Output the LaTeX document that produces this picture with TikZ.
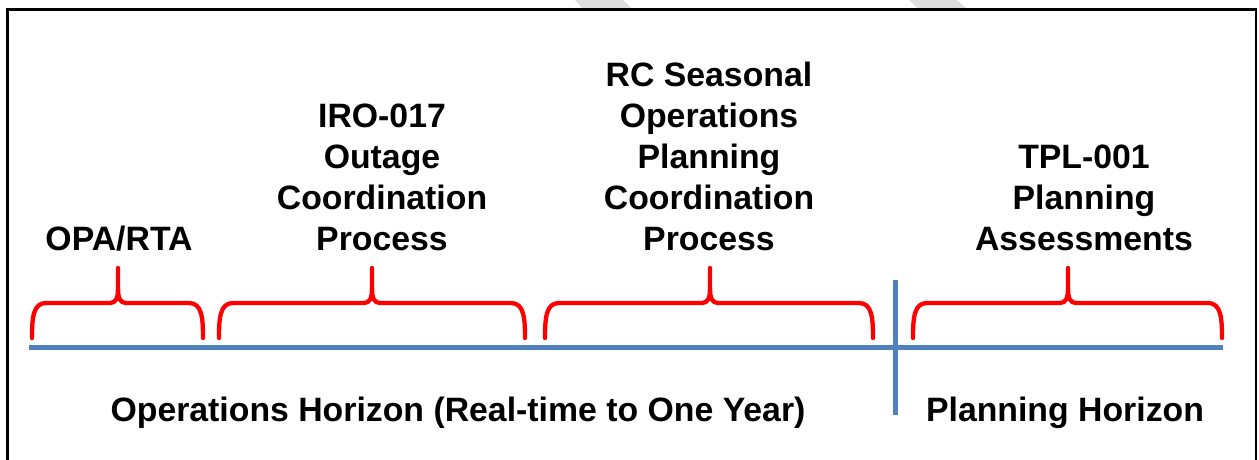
\documentclass[tikz,border=0pt]{standalone}
\usepackage{fontspec}
\setmainfont{Liberation Sans}
\definecolor{hblue}{RGB}{79,129,189}
\definecolor{wmgray}{RGB}{222,222,222}
\newcommand\redbrace[3]{%
  \draw[bracepath] (#1,338) .. controls (#1,318) and ({#1+1},303) .. ({#1+14},303)
     -- ({#2-8},303) .. controls ({#2-2},303) and (#2,298) .. (#2,288) -- (#2,268);
  \draw[bracepath] (#2,288) .. controls (#2,298) and ({#2+2},303) .. ({#2+8},303)
     -- ({#3-14},303) .. controls ({#3-1},303) and (#3,318) .. (#3,338);}
\begin{document}
\begin{tikzpicture}[x=1pt,y=-1pt,
  lbl/.style={font=\bfseries\fontsize{33.8}{41}\selectfont, align=center, inner sep=0pt},
  bracepath/.style={draw=red, line width=4.3pt, line cap=round, line join=round},
  axisline/.style={draw=hblue, line width=5pt}]
\useasboundingbox (0,0) rectangle (1259,460);
\clip (0,0) rectangle (1259,460);
% faint watermark bands
\fill[wmgray] (575,0) -- (623,0) -- (632,9) -- (583,9) -- cycle;
\fill[wmgray] (909,0) -- (957,0) -- (967,9) -- (918,9) -- cycle;
% frame
\draw[line width=2.5pt] (7.5,470) -- (7.5,9.5) -- (1256,9.5) -- (1256,470);
% axis
\coordinate (axL) at (29,347);
\coordinate (axR) at (1223,347);
\coordinate (vT) at (895,280);
\coordinate (vB) at (895,415);
\draw[axisline] (axL) -- (axR);
\draw[axisline] (vT) -- (vB);
% braces
\redbrace{32}{118}{203}
\redbrace{219}{372}{525}
\redbrace{545}{710}{873}
\redbrace{913}{1068}{1222}
% labels
\node[lbl, anchor=south] (opa) at (119,251) {OPA/RTA};
\node[lbl, anchor=south] (iro) at (382,251) {IRO-017\\Outage\\Coordination\\Process};
\node[lbl, anchor=south] (rc) at (709,251) {RC Seasonal\\Operations\\Planning\\Coordination\\Process};
\node[lbl, anchor=south] (tpl) at (1084,251) {TPL-001\\Planning\\Assessments};
\node[lbl, anchor=base] (ops) at (458,421) {Operations Horizon (Real-time to One Year)};
\node[lbl, anchor=base] (pln) at (1065,421) {Planning Horizon};
\end{tikzpicture}
\end{document}
